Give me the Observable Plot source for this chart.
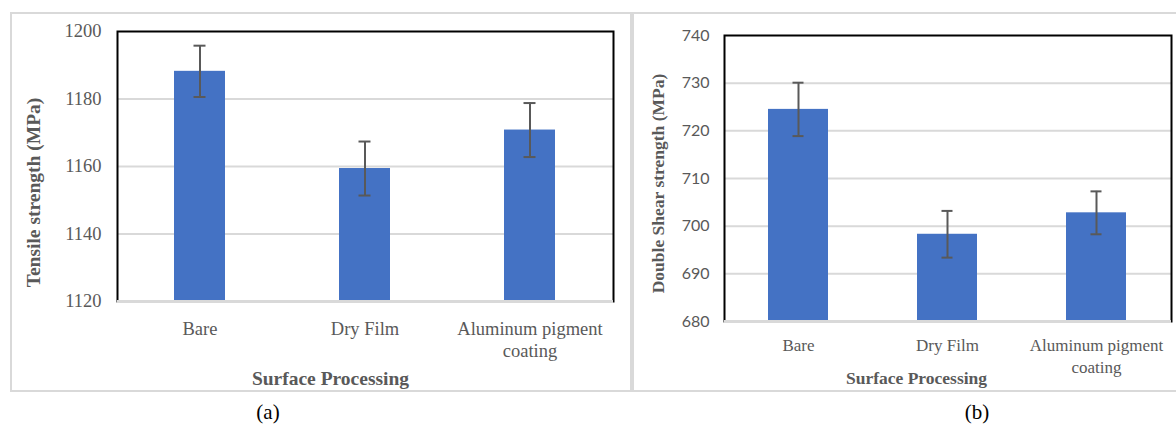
<!DOCTYPE html>
<html>
<head>
<meta charset="utf-8">
<script src="https://cdn.jsdelivr.net/npm/d3@7"></script>
<script src="https://cdn.jsdelivr.net/npm/@observablehq/plot@0.6"></script>
<style>
  html, body { margin: 0; padding: 0; background: #fff; }
  #root { position: relative; width: 1176px; height: 424px; overflow: hidden; background: #fff; }
  .box { position: absolute; box-sizing: border-box; border: 2px solid #d9d9d9; }
  .chart { position: absolute; top: 0; }
  .cap { position: absolute; transform: translate(-50%, -50%); font-family: "Liberation Serif", "Times New Roman", serif; font-size: 21px; color: #000; white-space: nowrap; }
</style>
</head>
<body>
<div id="root">
  <div class="box" style="left:10px; top:12px; width:622px; height:380px;"></div>
  <div class="box" style="left:632px; top:12px; width:560px; height:380px;"></div>
  <div id="chartA" class="chart" style="left:0px;"></div>
  <div id="chartB" class="chart" style="left:632px;"></div>
  <div class="cap" style="left:268px; top:412px;">(a)</div>
  <div class="cap" style="left:977px; top:412px;">(b)</div>
</div>
<script>
// ---- data ----
const categories = ["Bare", "Dry Film", "Aluminum pigment coating"];
const categoryLabels = ["Bare", "Dry Film", "Aluminum pigment\ncoating"];

const tensileMean = [1188.2, 1159.4, 1170.8];
const tensileErr = [7.6, 8.0, 8.0];
const tensileTicks = [1120, 1140, 1160, 1180, 1200];

const shearMean = [724.5, 698.3, 702.8];
const shearErr = [5.6, 4.9, 4.5];
const shearTicks = [680, 690, 700, 710, 720, 730, 740];

const xTitle = "Surface Processing";
const tensileTitle = "Tensile strength (MPa)";
const shearTitle = "Double Shear strength (MPa)";

function makeRows(means, errs) {
  return categories.map((c, i) => ({cat: c, mean: means[i], err: errs[i]}));
}

function panel(cfg) {
  const rows = makeRows(cfg.means, cfg.errs);
  const yMin = cfg.ticks[0], yMax = cfg.ticks[cfg.ticks.length - 1];
  const grid = cfg.ticks.slice(1, -1);
  const serif = "Liberation Serif, Times New Roman, serif";
  return Plot.plot({
    width: cfg.width,
    height: cfg.height,
    marginLeft: cfg.ml, marginRight: cfg.mr, marginTop: cfg.mt, marginBottom: cfg.mb,
    style: {background: "transparent", overflow: "visible"},
    x: {domain: categories, paddingInner: cfg.pad, paddingOuter: cfg.pad / 2, axis: null},
    y: {domain: [yMin, yMax], axis: null},
    marks: [
      Plot.ruleY(grid, {stroke: "#d9d9d9", strokeWidth: 2}),
      Plot.barY(rows, {x: "cat", y1: yMin, y2: "mean", fill: "#4472C4"}),
      Plot.ruleX(rows, {x: "cat", y1: d => d.mean - d.err, y2: d => d.mean + d.err, stroke: "#595959", strokeWidth: 2}),
      Plot.tickY(rows, {x: "cat", y: d => d.mean - d.err, insetLeft: cfg.capInset, insetRight: cfg.capInset, stroke: "#595959", strokeWidth: 2}),
      Plot.tickY(rows, {x: "cat", y: d => d.mean + d.err, insetLeft: cfg.capInset, insetRight: cfg.capInset, stroke: "#595959", strokeWidth: 2}),
      Plot.frame({stroke: "#000", strokeWidth: 2}),
      Plot.ruleY([yMin], {stroke: "#d9d9d9", strokeWidth: 3}),
      Plot.axisY(cfg.ticks, {tickSize: 0, tickPadding: cfg.yPad, fontSize: cfg.yFont, fontFamily: cfg.yFamily, color: "#595959", label: null, tickFormat: d => String(d)}),
      Plot.axisX({tickSize: 0, tickPadding: cfg.xPad, fontSize: cfg.xFont, fontFamily: serif, color: "#595959", lineHeight: cfg.lineHeight, label: null,
                  tickFormat: d => categoryLabels[categories.indexOf(d)]}),
      Plot.text([cfg.yTitle], {frameAnchor: "left", rotate: -90, dx: cfg.yTitleDx, dy: cfg.yTitleDy, textAnchor: "middle", lineAnchor: "middle",
                 fontSize: cfg.titleFont, fontWeight: "bold", fontFamily: serif, fill: "#595959"}),
      Plot.text([xTitle], {frameAnchor: "bottom", dx: cfg.xTitleDx, dy: cfg.xTitleDy, textAnchor: "middle", lineAnchor: "middle",
                 fontSize: cfg.titleFont, fontWeight: "bold", fontFamily: serif, fill: "#595959"})
    ]
  });
}

document.getElementById("chartA").append(panel({
  means: tensileMean, errs: tensileErr, ticks: tensileTicks,
  width: 632, height: 400, ml: 117, mr: 19, mt: 31, mb: 99,
  pad: 0.69, capInset: 19.5,
  yPad: 16, yFont: 18.5, yFamily: "Liberation Serif, Times New Roman, serif",
  xPad: 17, xFont: 18.5, lineHeight: 1.22,
  titleFont: 19.5, yTitle: tensileTitle, yTitleDx: -84, yTitleDy: 26, xTitleDx: -35, xTitleDy: 77
}));

document.getElementById("chartB").append(panel({
  means: shearMean, errs: shearErr, ticks: shearTicks,
  width: 544, height: 400, ml: 92, mr: 5, mt: 35, mb: 79,
  pad: 0.597, capInset: 24.5,
  yPad: 15, yFont: 16, yFamily: "Lato, Open Sans, sans-serif",
  xPad: 13.5, xFont: 17, lineHeight: 1.3,
  titleFont: 17.5, yTitle: shearTitle, yTitleDx: -66, yTitleDy: 5, xTitleDx: -31.5, xTitleDy: 57
}));
</script>
</body>
</html>
